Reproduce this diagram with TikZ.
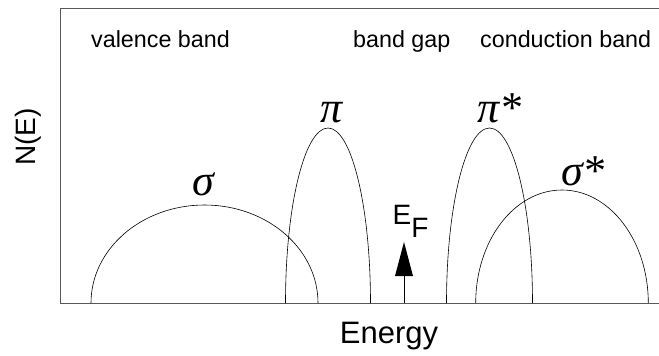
\documentclass[tikz,border=0pt]{standalone}
\usepackage{fontspec}
\setmainfont{Liberation Sans}
\newfontfamily\greekfont{Liberation Serif}
\begin{document}
\begin{tikzpicture}[x=1pt,y=-1pt,
  frame/.style={draw=black!65,line width=0.9pt},
  band/.style={draw=black,line width=0.6pt},
  toplabel/.style={anchor=base west,inner sep=0pt,font=\fontsize{23.3}{26}\selectfont},
  greek/.style={inner sep=0pt,font=\fontsize{44}{46}\selectfont\greekfont\itshape}]
\useasboundingbox (0,0) rectangle (659,356);
% frame
\coordinate (tl) at (60,8.5);
\coordinate (tr) at (659,8.5);
\coordinate (bl) at (60,303);
\coordinate (br) at (659,303);
\draw[frame] (tr) -- (tl) -- (bl) -- (br);
% bands (semi-ellipses)
\draw[band] (91,303) arc[start angle=180,end angle=0,x radius=113.5pt,y radius=98pt];
\draw[band] (285.5,303) arc[start angle=180,end angle=0,x radius=42.5pt,y radius=175pt];
\draw[band] (446.5,303) arc[start angle=180,end angle=0,x radius=43pt,y radius=175pt];
\draw[band] (475.7,303) arc[start angle=180,end angle=0,x radius=86.3pt,y radius=113pt];
% labels
\node[toplabel] (vb) at (91,47.5) {valence band};
\node[toplabel] (bg) at (353,47.5) {band gap};
\node[toplabel] (cb) at (480,47.5) {conduction band};
\node[greek,anchor=base] (sig) at (203,195.5) {σ};
\node[greek,anchor=base] (pi) at (332,122.5) {π};
\node[greek,anchor=base west] (pis) at (477,122.5) {π*};
\node[greek,anchor=base west] (sigs) at (561,185.5) {σ*};
\node[rotate=90,inner sep=0pt,font=\fontsize{28}{30}\selectfont] (ne) at (28,137) {N(E)};
\node[anchor=base,inner sep=0pt,font=\fontsize{31}{34}\selectfont] (en) at (389,343.5) {Energy};
% Fermi level
\node[anchor=base west,inner sep=0pt,font=\fontsize{28}{30}\selectfont] (ef) at (392.5,224) {E\raisebox{-13pt}{F}};
\coordinate (efb) at (404,303);
\coordinate (eft) at (404,242);
\draw[line width=0.8pt] (efb) -- (404,276);
\fill (eft) -- (413,276) -- (395,276) -- cycle;
\end{tikzpicture}
\end{document}
